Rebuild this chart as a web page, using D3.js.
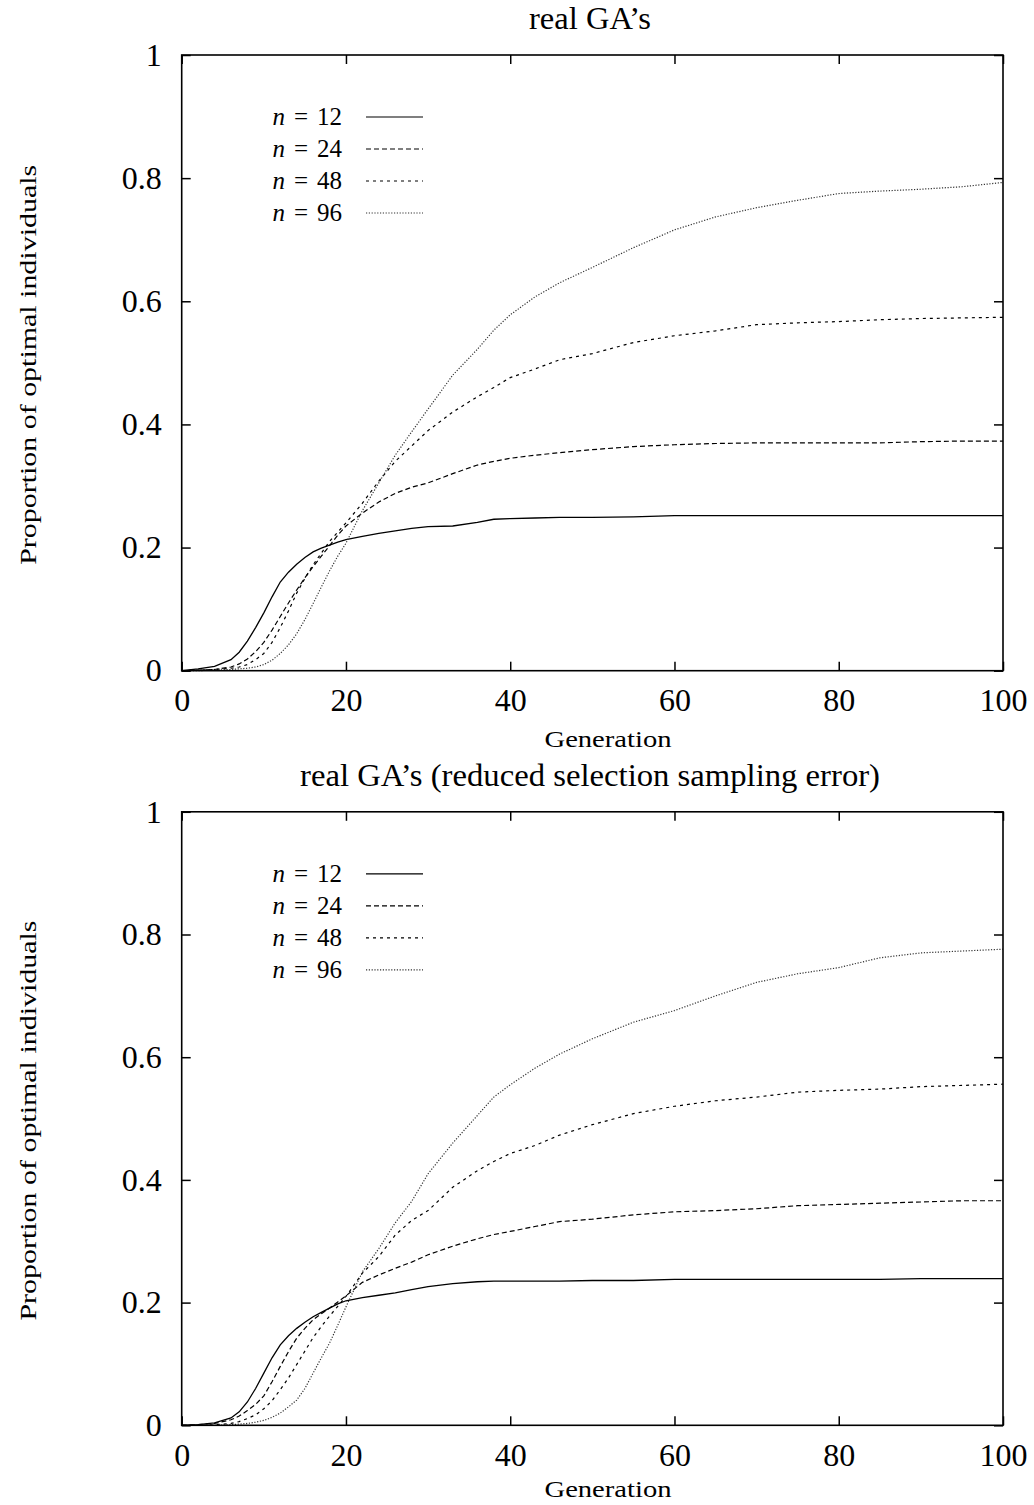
<!DOCTYPE html>
<html>
<head>
<meta charset="utf-8">
<script src="https://cdn.jsdelivr.net/npm/d3@7"></script>
<style>
  body { margin: 0; background: #fff; }
  text { font-family: "Liberation Serif", "Times New Roman", serif; fill: #000; }
</style>
</head>
<body>
<div id="chart"></div>
<script>
var width = 1034, height = 1505;

var generations = [0, 2, 4, 6, 7, 8, 9, 10, 11, 12, 13, 14, 15, 16, 17, 18, 19, 20, 22, 24, 26, 28, 30, 33, 36, 38, 40, 43, 46, 50, 55, 60, 65, 70, 75, 80, 85, 90, 95, 100];

// top panel: real GA's
var topN12 = [0, 0.003, 0.007, 0.018, 0.030, 0.048, 0.070, 0.094, 0.120, 0.144, 0.160, 0.173, 0.184, 0.193, 0.199, 0.204, 0.209, 0.213, 0.218, 0.223, 0.227, 0.231, 0.234, 0.235, 0.241, 0.246, 0.247, 0.248, 0.249, 0.249, 0.250, 0.252, 0.252, 0.252, 0.252, 0.252, 0.252, 0.252, 0.252, 0.252];
var topN24 = [0, 0.001, 0.002, 0.006, 0.011, 0.019, 0.031, 0.046, 0.066, 0.088, 0.110, 0.131, 0.151, 0.169, 0.186, 0.203, 0.220, 0.235, 0.256, 0.274, 0.288, 0.298, 0.305, 0.320, 0.334, 0.340, 0.345, 0.350, 0.354, 0.359, 0.364, 0.367, 0.369, 0.370, 0.370, 0.370, 0.370, 0.372, 0.373, 0.373];
var topN48 = [0, 0.001, 0.002, 0.004, 0.006, 0.010, 0.018, 0.028, 0.046, 0.070, 0.097, 0.126, 0.150, 0.172, 0.191, 0.210, 0.225, 0.240, 0.272, 0.308, 0.340, 0.365, 0.390, 0.420, 0.445, 0.460, 0.476, 0.490, 0.505, 0.515, 0.533, 0.544, 0.552, 0.562, 0.565, 0.567, 0.570, 0.572, 0.573, 0.574];
var topN96 = [0, 0, 0.001, 0.002, 0.003, 0.004, 0.006, 0.010, 0.017, 0.028, 0.042, 0.060, 0.083, 0.109, 0.136, 0.162, 0.186, 0.207, 0.260, 0.305, 0.350, 0.388, 0.425, 0.480, 0.522, 0.553, 0.578, 0.607, 0.630, 0.655, 0.687, 0.716, 0.737, 0.752, 0.764, 0.775, 0.779, 0.782, 0.786, 0.793];

// bottom panel: reduced selection sampling error
var botN12 = [0, 0.001, 0.004, 0.012, 0.022, 0.038, 0.060, 0.085, 0.110, 0.131, 0.146, 0.158, 0.168, 0.177, 0.184, 0.191, 0.198, 0.203, 0.208, 0.212, 0.216, 0.221, 0.226, 0.231, 0.234, 0.235, 0.235, 0.235, 0.235, 0.236, 0.236, 0.238, 0.238, 0.238, 0.238, 0.238, 0.238, 0.239, 0.239, 0.239];
var botN24 = [0, 0.001, 0.003, 0.009, 0.015, 0.024, 0.034, 0.048, 0.071, 0.096, 0.120, 0.142, 0.158, 0.172, 0.182, 0.191, 0.201, 0.211, 0.233, 0.245, 0.256, 0.266, 0.278, 0.292, 0.304, 0.311, 0.316, 0.324, 0.332, 0.336, 0.343, 0.348, 0.350, 0.353, 0.358, 0.360, 0.362, 0.364, 0.366, 0.366];
var botN48 = [0, 0, 0.001, 0.003, 0.006, 0.011, 0.017, 0.027, 0.040, 0.058, 0.077, 0.099, 0.121, 0.143, 0.161, 0.178, 0.194, 0.210, 0.248, 0.275, 0.310, 0.334, 0.350, 0.388, 0.415, 0.430, 0.443, 0.456, 0.473, 0.490, 0.508, 0.520, 0.529, 0.535, 0.543, 0.546, 0.548, 0.552, 0.554, 0.556];
var botN96 = [0, 0, 0, 0.001, 0.002, 0.003, 0.005, 0.008, 0.013, 0.020, 0.030, 0.041, 0.060, 0.085, 0.110, 0.134, 0.163, 0.193, 0.250, 0.288, 0.330, 0.365, 0.410, 0.460, 0.505, 0.535, 0.555, 0.582, 0.605, 0.630, 0.657, 0.676, 0.700, 0.722, 0.736, 0.746, 0.762, 0.770, 0.773, 0.776];

var seriesLabels = ["12", "24", "48", "96"];
var xTicks = [0, 20, 40, 60, 80, 100];
var yTicks = [0, 0.2, 0.4, 0.6, 0.8, 1];
var titles = ["real GA\u2019s", "real GA\u2019s (reduced selection sampling error)"];

var dashes = [null, "5,3", "3,4", "1.2,1.6"];

var svg = d3.select("#chart")
            .append("svg")
            .attr("width", width)
            .attr("height", height);

function drawPanel(top, bottom, title, titleLen, xLabelGap, values) {
  var x = d3.scaleLinear().domain([0, 100]).range([181.7, 1003]);
  var y = d3.scaleLinear().domain([0, 1]).range([bottom, top]);
  var g = svg.append("g");

  // curves
  var line = d3.line()
               .x(function (d) { return x(d[0]); })
               .y(function (d) { return y(d[1]); });
  values.forEach(function (vals, i) {
    g.append("path")
     .datum(generations.map(function (gen, j) { return [gen, vals[j]]; }))
     .attr("d", line)
     .attr("fill", "none")
     .attr("stroke", i == 3 ? "#333" : "#000")
     .attr("stroke-width", i == 0 ? 1.3 : 1.2)
     .attr("stroke-dasharray", dashes[i]);
  });

  // ticks inward on all four sides
  var tl = 9;
  g.append("g")
   .attr("transform", "translate(0," + bottom + ")")
   .call(d3.axisBottom(x).tickValues(xTicks).tickSize(-tl).tickPadding(tl + 9).tickFormat(d3.format("d")))
   .call(function (a) { a.select(".domain").remove(); });
  g.append("g")
   .attr("transform", "translate(0," + top + ")")
   .call(d3.axisTop(x).tickValues(xTicks).tickSize(-tl).tickFormat(""))
   .call(function (a) { a.select(".domain").remove(); });
  g.append("g")
   .attr("transform", "translate(181.7,0)")
   .call(d3.axisLeft(y).tickValues(yTicks).tickSize(-tl).tickPadding(tl + 11).tickFormat(function (d) { return d3.format("")(+d.toFixed(1)); }))
   .call(function (a) { a.select(".domain").remove(); });
  g.append("g")
   .attr("transform", "translate(1003,0)")
   .call(d3.axisRight(y).tickValues(yTicks).tickSize(-tl).tickFormat(""))
   .call(function (a) { a.select(".domain").remove(); });

  g.selectAll(".tick line").attr("stroke", "#000").attr("stroke-width", 1.5);
  g.selectAll(".tick text")
   .style("font-family", "'Liberation Serif', serif")
   .style("font-size", "32px")
   .attr("fill", "#000");

  // frame
  g.append("rect")
   .attr("x", x(0)).attr("y", top)
   .attr("width", x(100) - x(0)).attr("height", bottom - top)
   .attr("fill", "none").attr("stroke", "#000").attr("stroke-width", 1.6);

  // title and axis labels
  g.append("text")
   .attr("x", 590).attr("y", top - 26)
   .attr("text-anchor", "middle")
   .attr("textLength", titleLen)
   .attr("lengthAdjust", "spacingAndGlyphs")
   .style("font-size", "31px")
   .text(title);
  g.append("text")
   .attr("x", 608).attr("y", bottom + xLabelGap)
   .attr("text-anchor", "middle")
   .attr("textLength", 127)
   .attr("lengthAdjust", "spacingAndGlyphs")
   .style("font-size", "23px")
   .text("Generation");
  g.append("text")
   .attr("transform", "translate(36," + ((top + bottom) / 2 + 2) + ") rotate(-90)")
   .attr("text-anchor", "middle")
   .attr("textLength", 400)
   .attr("lengthAdjust", "spacingAndGlyphs")
   .style("font-size", "24px")
   .text("Proportion of optimal individuals");

  // legend
  seriesLabels.forEach(function (lab, i) {
    var ly = top + 62 + i * 32;
    var t = g.append("text")
             .attr("x", 342).attr("y", ly + 8)
             .attr("text-anchor", "end")
             .style("font-size", "25px");
    t.append("tspan").style("font-style", "italic").text("n");
    t.append("tspan").attr("dx", 9).text("=");
    t.append("tspan").attr("dx", 9).text(lab);
    g.append("line")
     .attr("x1", 366).attr("x2", 423)
     .attr("y1", ly).attr("y2", ly)
     .attr("stroke", i == 3 ? "#333" : "#000")
     .attr("stroke-width", 1.2)
     .attr("stroke-dasharray", dashes[i]);
  });
}

drawPanel(55, 670.7, titles[0], 122, 76, [topN12, topN24, topN48, topN96]);
drawPanel(811.8, 1425.3, titles[1], 580, 72, [botN12, botN24, botN48, botN96]);
</script>
</body>
</html>
